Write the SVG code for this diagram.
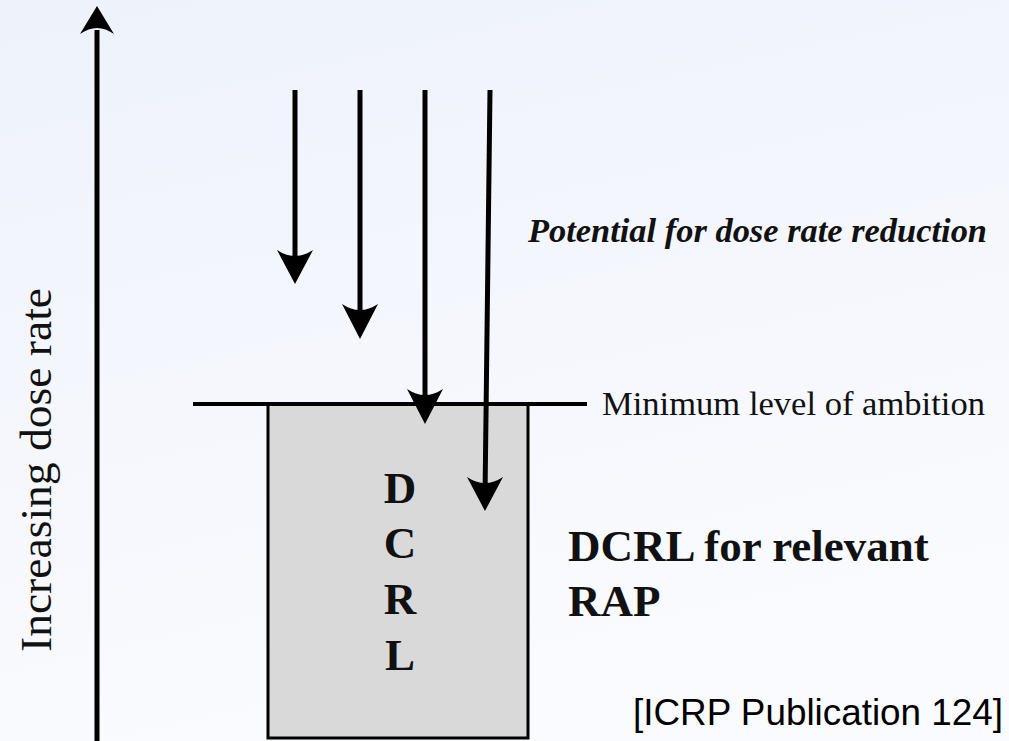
<svg xmlns="http://www.w3.org/2000/svg" width="1009" height="741" viewBox="0 0 1009 741">
<defs>
<linearGradient id="bg" x1="0" y1="0" x2="0.3" y2="1">
<stop offset="0" stop-color="#eef2fb"/>
<stop offset="1" stop-color="#fafbfe"/>
</linearGradient>
</defs>
<style>
.ln{stroke:#000;fill:none}
.hd{fill:#000}
.tm{font-family:"Liberation Serif","Times New Roman",serif;fill:#111}
.bd{font-weight:bold}
</style>
<rect width="1009" height="741" fill="url(#bg)"/>
<g id="box">
<rect x="268" y="404" width="260" height="334" fill="#d9d9d9" stroke="#000" stroke-width="3"/>
<text class="tm bd" x="400" y="503" font-size="45" text-anchor="middle">D</text>
<text class="tm bd" x="400" y="558" font-size="45" text-anchor="middle">C</text>
<text class="tm bd" x="400" y="614" font-size="45" text-anchor="middle">R</text>
<text class="tm bd" x="400" y="670" font-size="45" text-anchor="middle">L</text>
</g>
<g id="connectors">
<line class="ln" x1="97" y1="741" x2="97" y2="30" stroke-width="5"/>
<path class="hd" d="M97,6 L80,34 Q97,22 114,34 Z"/>
<line class="ln" x1="193" y1="404" x2="587" y2="404" stroke-width="4"/>
<line class="ln" x1="295" y1="90" x2="295" y2="270" stroke-width="5"/>
<path class="hd" d="M295,284 L277,250 Q295,262 313,250 Z"/>
<line class="ln" x1="360" y1="90" x2="360" y2="325" stroke-width="5"/>
<path class="hd" d="M360,339 L342,304 Q360,316 378,304 Z"/>
<line class="ln" x1="425" y1="90" x2="425" y2="410" stroke-width="5"/>
<path class="hd" d="M425,424 L407,389 Q425,401 443,389 Z"/>
<line class="ln" x1="490" y1="90" x2="485" y2="497" stroke-width="5"/>
<path class="hd" d="M485,511 L467,477 Q485,489 503,477 Z"/>
</g>
<g id="labels">
<text class="tm bd" x="528" y="242" font-size="33" font-style="italic" textLength="459" lengthAdjust="spacingAndGlyphs">Potential for dose rate reduction</text>
<text class="tm" x="602" y="415" font-size="33" textLength="383" lengthAdjust="spacingAndGlyphs">Minimum level of ambition</text>
<text class="tm bd" x="568" y="561" font-size="45">DCRL for relevant</text>
<text class="tm bd" x="568" y="616" font-size="45">RAP</text>
<text class="tm" transform="translate(51,652) rotate(-90)" font-size="45" textLength="364" lengthAdjust="spacingAndGlyphs">Increasing dose rate</text>
<text x="633" y="725" font-family="'Liberation Sans',Arial,sans-serif" font-size="36" fill="#000" textLength="370" lengthAdjust="spacingAndGlyphs">[ICRP Publication 124]</text>
</g>
</svg>
